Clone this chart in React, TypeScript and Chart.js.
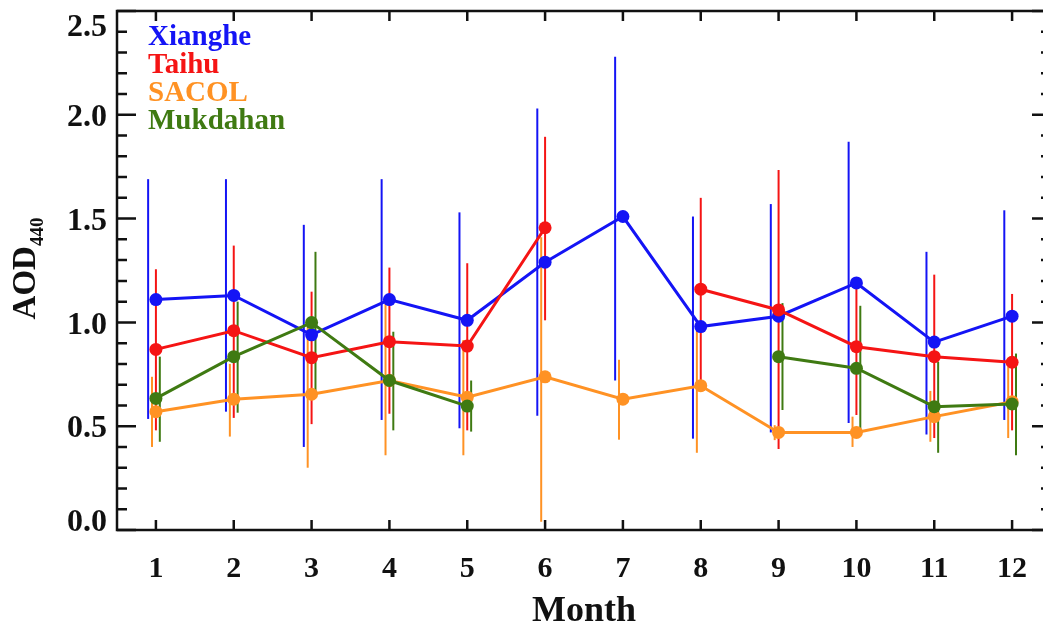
import React, { useEffect, useRef } from 'react';
import { Chart, registerables } from 'chart.js';

Chart.register(...registerables);

const months = [1, 2, 3, 4, 5, 6, 7, 8, 9, 10, 11, 12];
const yTicks = [0, 0.5, 1.0, 1.5, 2.0, 2.5];

const xiangheMean = [1.11, 1.13, 0.94, 1.11, 1.01, 1.29, 1.51, 0.98, 1.03, 1.19, 0.905, 1.03];
const xiangheLow = [0.535, 0.57, 0.40, 0.53, 0.49, 0.55, 0.72, 0.44, 0.47, 0.515, 0.46, 0.53];
const xiangheHigh = [1.69, 1.69, 1.47, 1.69, 1.53, 2.03, 2.28, 1.51, 1.57, 1.87, 1.34, 1.54];

const taihuMean = [0.87, 0.96, 0.83, 0.907, 0.886, 1.456, null, 1.16, 1.06, 0.883, 0.835, 0.808];
const taihuLow = [0.48, 0.54, 0.51, 0.56, 0.48, 1.01, null, 0.72, 0.39, 0.554, 0.443, 0.48];
const taihuHigh = [1.256, 1.37, 1.148, 1.264, 1.285, 1.894, null, 1.60, 1.734, 1.205, 1.23, 1.137];

const sacolMean = [0.57, 0.63, 0.654, 0.72, 0.64, 0.738, 0.63, 0.695, 0.47, 0.47, 0.546, 0.618];
const sacolLow = [0.40, 0.45, 0.30, 0.36, 0.36, 0.04, 0.435, 0.372, 0.433, 0.40, 0.425, 0.443];
const sacolHigh = [0.738, 0.80, 1.01, 1.10, 0.915, 1.41, 0.82, 1.01, 0.505, 0.546, 0.67, 0.786];

const mukdahanMean = [0.634, 0.835, 0.999, 0.72, 0.597, null, null, null, 0.835, 0.779, 0.594, 0.607];
const mukdahanLow = [0.425, 0.565, 0.66, 0.48, 0.474, null, null, null, 0.578, 0.485, 0.372, 0.36];
const mukdahanHigh = [0.835, 1.10, 1.34, 0.955, 0.72, null, null, null, 1.093, 1.08, 0.81, 0.85];

const FONT = "'Liberation Serif', 'Times New Roman', serif";

type Series = {
  name: string;
  color: string;
  mean: (number | null)[];
  low: (number | null)[];
  high: (number | null)[];
  offset: number;
  order: number;
};

const series: Series[] = [
  { name: 'Xianghe', color: '#1414f5', mean: xiangheMean, low: xiangheLow, high: xiangheHigh, offset: -0.1, order: 4 },
  { name: 'Taihu', color: '#f51414', mean: taihuMean, low: taihuLow, high: taihuHigh, offset: 0, order: 3 },
  { name: 'SACOL', color: '#ff9224', mean: sacolMean, low: sacolLow, high: sacolHigh, offset: -0.05, order: 2 },
  { name: 'Mukdahan', color: '#3f7a12', mean: mukdahanMean, low: mukdahanLow, high: mukdahanHigh, offset: 0.05, order: 1 },
];

const barOrder = [0, 2, 1, 3];

const errorBarPlugin = {
  id: 'errorBars',
  beforeDatasetsDraw(chart: any) {
    const { ctx, chartArea, scales } = chart;
    const x = scales.x;
    const y = scales.y;
    ctx.save();
    ctx.beginPath();
    ctx.rect(chartArea.left, chartArea.top, chartArea.right - chartArea.left, chartArea.bottom - chartArea.top);
    ctx.clip();
    barOrder.forEach((si) => {
      const s = series[si];
      ctx.strokeStyle = s.color;
      ctx.lineWidth = 2;
      months.forEach((m, i) => {
        const lo = s.low[i];
        const hi = s.high[i];
        if (lo == null || hi == null) return;
        const px = x.getPixelForValue(m + s.offset);
        ctx.beginPath();
        ctx.moveTo(px, y.getPixelForValue(lo));
        ctx.lineTo(px, y.getPixelForValue(hi));
        ctx.stroke();
      });
    });
    ctx.restore();
  },
};

const framePlugin = {
  id: 'frame',
  afterDraw(chart: any) {
    const { ctx, chartArea, scales } = chart;
    const x = scales.x;
    const y = scales.y;
    const { left, right, top, bottom } = chartArea;
    ctx.save();
    ctx.strokeStyle = '#111';
    ctx.lineWidth = 2.5;
    ctx.strokeRect(left, top, right - left, bottom - top);
    ctx.beginPath();
    for (let k = 0; k <= 25; k++) {
      const v = k / 10;
      const py = y.getPixelForValue(v);
      const len = k % 5 === 0 ? 19 : 10;
      ctx.moveTo(left, py);
      ctx.lineTo(left + len, py);
      ctx.moveTo(right, py);
      ctx.lineTo(right - len, py);
    }
    months.forEach((m) => {
      const px = x.getPixelForValue(m);
      ctx.moveTo(px, bottom);
      ctx.lineTo(px, bottom - 10);
      ctx.moveTo(px, top);
      ctx.lineTo(px, top + 10);
    });
    ctx.stroke();

    // y axis title: AOD with subscript 440
    const yc = (top + bottom) / 2;
    ctx.translate(35, yc);
    ctx.rotate(-Math.PI / 2);
    ctx.fillStyle = '#111';
    ctx.textBaseline = 'alphabetic';
    ctx.textAlign = 'left';
    ctx.font = `bold 33px ${FONT}`;
    const main = 'AOD';
    const wMain = ctx.measureText(main).width;
    ctx.font = `bold 19px ${FONT}`;
    const sub = '440';
    const wSub = ctx.measureText(sub).width;
    const start = -(wMain + wSub) / 2 + 2;
    ctx.font = `bold 33px ${FONT}`;
    ctx.fillText(main, start, 0);
    ctx.font = `bold 19px ${FONT}`;
    ctx.fillText(sub, start + wMain, 8);
    ctx.restore();

    // legend text
    ctx.save();
    ctx.font = `bold 29px ${FONT}`;
    ctx.textAlign = 'left';
    ctx.textBaseline = 'alphabetic';
    series.forEach((s, i) => {
      ctx.fillStyle = s.color;
      ctx.fillText(s.name, 148, 45 + i * 28);
    });
    ctx.restore();
  },
};

export default function App() {
  const ref = useRef<HTMLCanvasElement>(null);
  useEffect(() => {
    document.body.style.margin = '0';
    const canvas = ref.current;
    if (!canvas) return;
    const chart = new Chart(canvas, {
      type: 'line',
      data: {
        datasets: series.map((s) => ({
          label: s.name,
          data: months.map((m, i) => ({ x: m, y: s.mean[i] })) as any,
          borderColor: s.color,
          backgroundColor: s.color,
          pointBackgroundColor: s.color,
          pointBorderColor: s.color,
          pointBorderWidth: 0,
          pointRadius: 6.5,
          borderWidth: 3,
          spanGaps: false,
          order: s.order,
          tension: 0,
        })),
      },
      options: {
        responsive: false,
        devicePixelRatio: 1,
        animation: false,
        layout: { padding: { top: 11, right: 9, left: 0, bottom: 0 } },
        plugins: { legend: { display: false }, tooltip: { enabled: false } },
        scales: {
          x: {
            type: 'linear',
            min: 0.5,
            max: 12.5,
            afterBuildTicks: (s: any) => {
              s.ticks = months.map((v) => ({ value: v }));
            },
            afterFit: (s: any) => {
              s.height = 96;
              s.paddingLeft = 0;
              s.paddingRight = 0;
            },
            grid: { display: false, drawTicks: false },
            border: { display: false },
            ticks: {
              autoSkip: false,
              maxRotation: 0,
              padding: 21,
              color: '#111',
              font: { family: FONT, weight: 'bold', size: 30 },
              callback: (v: any) => String(v),
            },
            title: {
              display: true,
              text: 'Month',
              color: '#111',
              padding: 0,
              font: { family: FONT, weight: 'bold', size: 36, lineHeight: 0.78 },
            },
          },
          y: {
            type: 'linear',
            min: 0,
            max: 2.5,
            afterBuildTicks: (s: any) => {
              s.ticks = yTicks.map((v) => ({ value: v }));
            },
            afterFit: (s: any) => {
              s.width = 117;
              s.paddingTop = 0;
              s.paddingBottom = 0;
            },
            grid: { display: false, drawTicks: false },
            border: { display: false },
            ticks: {
              padding: 10,
              labelOffset: 3,
              color: '#111',
              font: (c: any) => ({
                family: FONT,
                weight: 'bold',
                size: 32,
                lineHeight: c.tick && c.tick.value === 2.5 ? 0.875 : c.tick && c.tick.value === 0 ? 0.625 : 1.2,
              }),
              callback: (v: any) => {
                const t = Number(v).toFixed(1);
                if (Number(v) === 2.5) return ['', t];
                if (Number(v) === 0) return [t, ''];
                return t;
              },
            },
          },
        },
      } as any,
      plugins: [errorBarPlugin, framePlugin],
    });
    return () => chart.destroy();
  }, []);
  return (
    <div style={{ width: 1043, height: 626, overflow: 'hidden', background: '#fff' }}>
      <canvas ref={ref} width={1060} height={626} style={{ display: 'block', width: 1060, height: 626 }} />
    </div>
  );
}
